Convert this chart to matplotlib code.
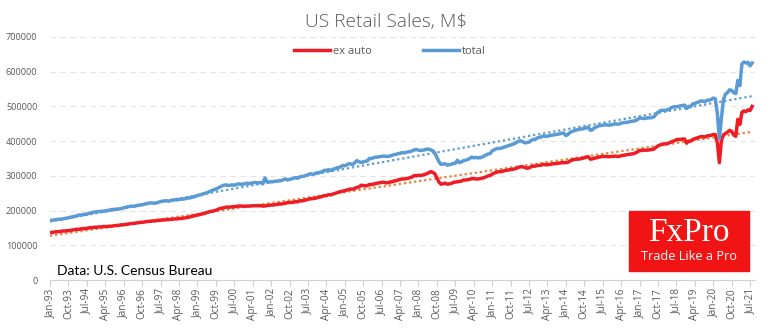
import matplotlib.pyplot as plt
import numpy as np
import pandas as pd
from matplotlib.patches import Rectangle

# US retail sales, monthly, thousands of M$, Jan-93 .. Aug-21
total_k = [
    172, 172, 173, 174, 175, 175, 176, 177, 178, 179, 181, 182,  # 1993
    183, 185, 187, 187, 188, 189, 190, 192, 193, 195, 196, 197,  # 1994
    197, 198, 198, 199, 200, 201, 203, 203, 204, 204, 205, 206,  # 1995
    208, 209, 211, 212, 213, 212, 214, 215, 216, 217, 218, 220,  # 1996
    221, 222, 222, 221, 222, 224, 226, 227, 228, 228, 227, 229,  # 1997
    230, 231, 231, 232, 233, 233, 234, 236, 236, 238, 239, 241,  # 1998
    243, 245, 246, 249, 250, 252, 255, 257, 260, 262, 265, 268,  # 1999
    271, 273, 274, 272, 273, 274, 273, 275, 277, 276, 276, 277,  # 2000
    279, 278, 278, 280, 281, 280, 280, 281, 277, 294, 283, 282,  # 2001
    283, 283, 285, 284, 286, 286, 289, 291, 288, 290, 291, 293,  # 2002
    295, 293, 297, 298, 299, 301, 303, 306, 305, 305, 308, 309,  # 2003
    310, 312, 316, 315, 318, 315, 319, 320, 323, 324, 326, 330,  # 2004
    329, 332, 335, 334, 333, 339, 344, 340, 339, 340, 342, 343,  # 2005
    350, 350, 352, 354, 354, 355, 356, 357, 356, 356, 357, 359,  # 2006
    361, 362, 364, 365, 367, 366, 368, 369, 370, 372, 375, 376,  # 2007
    374, 373, 374, 375, 377, 377, 375, 372, 366, 353, 341, 333,  # 2008
    334, 335, 331, 332, 333, 336, 336, 345, 338, 340, 344, 345,  # 2009
    347, 350, 354, 352, 353, 352, 352, 354, 357, 360, 363, 364,  # 2010
    372, 375, 378, 379, 379, 381, 383, 385, 387, 389, 391, 393,  # 2011
    397, 400, 401, 398, 395, 396, 397, 402, 405, 405, 409, 411,  # 2012
    412, 415, 414, 414, 416, 417, 418, 419, 420, 421, 423, 423,  # 2013
    416, 419, 425, 428, 430, 432, 433, 435, 435, 437, 438, 440,  # 2014
    431, 433, 439, 441, 444, 445, 446, 447, 447, 446, 447, 448,  # 2015
    450, 449, 449, 452, 453, 454, 454, 456, 457, 458, 459, 462,  # 2016
    467, 466, 465, 466, 467, 467, 468, 470, 477, 483, 487, 489,  # 2017
    489, 489, 491, 494, 498, 499, 499, 500, 502, 502, 504, 494,  # 2018
    500, 500, 507, 509, 511, 513, 516, 515, 514, 518, 518, 520,  # 2019
    524, 522, 480, 407, 468, 520, 536, 540, 548, 546, 540, 537,  # 2020
    575, 560, 622, 628, 625, 627, 617, 625,                      # 2021
]

ex_auto_k = [
    137, 137, 138, 139, 139, 140, 141, 141, 142, 142, 143, 144,  # 1993
    145, 146, 146, 147, 148, 148, 149, 150, 151, 151, 152, 152,  # 1994
    153, 153, 154, 154, 154, 155, 155, 156, 157, 157, 158, 159,  # 1995
    159, 160, 161, 162, 163, 163, 164, 165, 166, 166, 167, 168,  # 1996
    169, 169, 170, 170, 171, 172, 172, 173, 173, 174, 174, 175,  # 1997
    175, 176, 176, 177, 177, 178, 179, 180, 181, 183, 184, 186,  # 1998
    187, 188, 190, 191, 193, 195, 197, 198, 199, 201, 203, 206,  # 1999
    207, 208, 210, 210, 210, 211, 211, 212, 213, 213, 213, 212,  # 2000
    213, 213, 213, 214, 214, 214, 214, 214, 213, 213, 215, 215,  # 2001
    216, 216, 217, 218, 219, 219, 220, 221, 223, 223, 224, 224,  # 2002
    226, 225, 228, 228, 229, 231, 232, 234, 234, 235, 236, 238,  # 2003
    239, 241, 243, 243, 246, 245, 247, 249, 251, 253, 255, 256,  # 2004
    257, 259, 261, 262, 262, 264, 267, 268, 273, 272, 271, 272,  # 2005
    275, 275, 276, 278, 279, 280, 281, 282, 280, 280, 282, 283,  # 2006
    285, 286, 288, 290, 291, 291, 292, 293, 295, 297, 301, 300,  # 2007
    302, 301, 302, 304, 306, 309, 312, 310, 306, 294, 282, 276,  # 2008
    277, 279, 276, 277, 278, 281, 282, 283, 284, 285, 288, 288,  # 2009
    289, 290, 292, 292, 291, 291, 292, 293, 295, 297, 300, 301,  # 2010
    305, 308, 310, 312, 312, 313, 315, 316, 317, 318, 319, 320,  # 2011
    322, 325, 326, 326, 324, 322, 323, 326, 328, 328, 330, 330,  # 2012
    331, 333, 332, 332, 333, 334, 335, 335, 336, 337, 338, 338,  # 2013
    338, 339, 343, 345, 347, 348, 348, 349, 350, 352, 354, 355,  # 2014
    348, 349, 351, 352, 354, 355, 356, 356, 356, 355, 356, 356,  # 2015
    357, 356, 356, 358, 359, 360, 361, 362, 363, 364, 366, 369,  # 2016
    373, 373, 374, 374, 374, 375, 376, 377, 382, 386, 389, 391,  # 2017
    392, 392, 394, 396, 399, 401, 404, 405, 405, 406, 406, 394,  # 2018
    400, 400, 405, 407, 409, 411, 413, 413, 412, 415, 416, 417,  # 2019
    419, 419, 395, 338, 403, 418, 422, 426, 431, 428, 418, 414,  # 2020
    463, 448, 483, 487, 485, 490, 488, 500,                      # 2021
]

first_month = "1993-01"
label_step = 9  # a label every 9 months
y_ticks = [0, 100000, 200000, 300000, 400000, 500000, 600000, 700000]

RED = "#EE1C25"
BLUE = "#5B9BD5"
ORANGE = "#ED7D31"
GREY = "#595959"

total = np.array(total_k) * 1000
ex_auto = np.array(ex_auto_k) * 1000
x = np.arange(len(total))
dates = pd.date_range(first_month, periods=len(total), freq="MS")

plt.rcParams["font.family"] = ["Open Sans", "DejaVu Sans"]

fig = plt.figure(figsize=(7.7, 3.3), dpi=100)
ax = fig.add_axes([50 / 770, 1 - 280 / 330, 705 / 770, 243 / 330])

ax.plot(x, ex_auto, color=RED, lw=2.5, label="ex auto", zorder=3)
ax.plot(x, total, color=BLUE, lw=2.5, label="total", zorder=3)

# linear trend lines, like the spreadsheet ones
for y, c in [(total, BLUE), (ex_auto, ORANGE)]:
    k, b = np.polyfit(x, y, 1)
    ax.plot(x, k * x + b, color=c, lw=1.6, ls=(0, (1, 1.3)), zorder=2)

ax.set_xlim(0, 344.4)
ax.set_ylim(0, 700000)
ax.set_yticks(y_ticks)
ax.set_yticklabels([str(v) for v in y_ticks])
ax.grid(axis="y", color="#E3E3E3", lw=0.8, ls=(0, (5, 4)))
ax.set_axisbelow(True)

ticks = x[::label_step]
ax.set_xticks(ticks)
ax.set_xticklabels([d.strftime("%b-%y") for d in dates[::label_step]], rotation=90)

for s in ["top", "right", "left"]:
    ax.spines[s].set_visible(False)
ax.spines["bottom"].set_color("#D0D0D0")
ax.tick_params(axis="y", length=0, pad=9, labelsize=6.6, labelcolor=GREY)
ax.tick_params(axis="x", length=4, color="#D0D0D0", pad=2, labelsize=7.2, labelcolor=GREY)

fig.text(386 / 770, 1 - 22 / 330, "US Retail Sales, M$", ha="center", va="center",
         fontsize=13.8, color=GREY, fontweight="light")

fig.legend(loc="center", bbox_to_anchor=(390 / 770, 1 - 51 / 330), ncol=2, frameon=False,
           fontsize=8, handlelength=3.2, handletextpad=0.3, columnspacing=4.6,
           labelcolor=GREY)

fig.text(57 / 770, 1 - 271 / 330, "Data: U.S. Census Bureau", ha="left", va="center",
         fontsize=10, color="black", family=["Lato", "DejaVu Sans"])

# FxPro badge
fig.patches.append(Rectangle((629 / 770, 1 - 271 / 330), 120 / 770, 60 / 330,
                             transform=fig.transFigure, color="#F01414", zorder=5))
fig.text(689 / 770, 1 - 233 / 330, "FxPro", ha="center", va="center", fontsize=24,
         color="white", family=["Liberation Serif", "DejaVu Serif"], zorder=6)
fig.text(689 / 770, 1 - 256 / 330, "Trade Like a Pro", ha="center", va="center",
         fontsize=9.2, color="white", zorder=6)

fig.savefig("out.png", dpi=100)
